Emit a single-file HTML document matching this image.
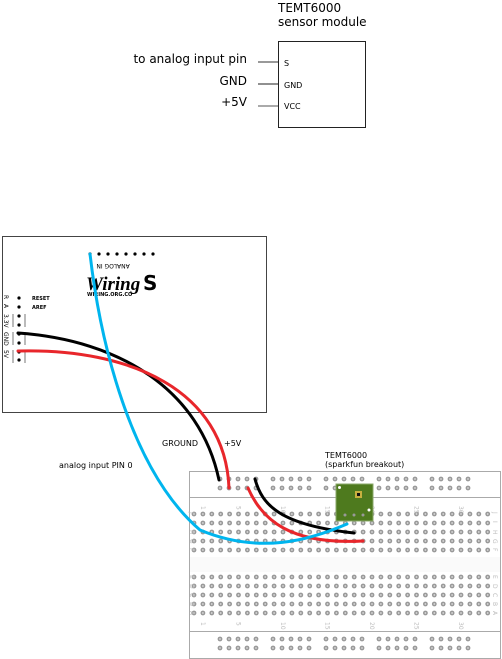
<!DOCTYPE html>
<html><head><meta charset="utf-8">
<style>
html,body{margin:0;padding:0;background:#fff;}
svg{display:block;font-family:"DejaVu Sans","Liberation Sans",sans-serif;}
</style></head>
<body>
<svg id="s" width="502" height="659" viewBox="0 0 502 659" xmlns="http://www.w3.org/2000/svg">
  <g>
    <text x="278" y="12" font-size="12">TEMT6000</text>
    <text x="278" y="26" font-size="12">sensor module</text>
    <rect x="278.5" y="41.5" width="87" height="86" fill="#fff" stroke="#222" stroke-width="1"/>
    <line x1="258" y1="62" x2="278" y2="62" stroke="#333"/>
    <line x1="258" y1="84" x2="278" y2="84" stroke="#222"/>
    <line x1="258" y1="106" x2="278" y2="106" stroke="#555"/>
    <text x="284" y="66" font-size="8">S</text>
    <text x="284" y="88" font-size="8">GND</text>
    <text x="284" y="109" font-size="8">VCC</text>
    <text x="247" y="63" font-size="12" text-anchor="end">to analog input pin</text>
    <text x="247" y="85" font-size="12" text-anchor="end">GND</text>
    <text x="247" y="106" font-size="12" text-anchor="end">+5V</text>
  </g>

  <g>
    <rect x="2.5" y="236.5" width="264" height="176" fill="#fff" stroke="#444"/>
    <g id="topPins"></g>
    <text x="127" y="268" font-size="6" text-anchor="middle" transform="rotate(180 120 266)">ANALOG IN</text>
    <text x="86" y="290" font-size="19" font-style="italic" font-weight="bold" font-family="Liberation Serif, serif">Wiring</text>
    <text x="143" y="290" font-size="20" font-weight="bold">S</text>
    <text x="87" y="296" font-size="5" font-weight="bold">WIRING.ORG.CO</text>
    <text x="32" y="300" font-size="5" font-weight="bold">RESET</text>
    <text x="32" y="309" font-size="5" font-weight="bold">AREF</text>
    <g id="sidePins"></g>
    <g font-size="6">
      <text transform="translate(4,295) rotate(90)">R</text>
      <text transform="translate(4,304) rotate(90)">A</text>
      <text transform="translate(4,314) rotate(90)">3.3V</text>
      <text transform="translate(4,332) rotate(90)">GND</text>
      <text transform="translate(4,350) rotate(90)">5V</text>
    </g>
    <g stroke="#555" stroke-width="0.8">
      <line x1="13" y1="314" x2="13" y2="327"/><line x1="25" y1="314" x2="25" y2="327"/>
      <line x1="13" y1="332" x2="13" y2="345"/><line x1="25" y1="332" x2="25" y2="345"/>
      <line x1="13" y1="350" x2="13" y2="363"/><line x1="25" y1="350" x2="25" y2="363"/>
    </g>
  </g>

  <g>
    <rect x="189.5" y="471.5" width="311" height="187" fill="#fff" stroke="#aaa"/>
    <line x1="189" y1="497.5" x2="501" y2="497.5" stroke="#aaa"/>
    <line x1="189" y1="631.5" x2="501" y2="631.5" stroke="#aaa"/>
    <rect x="190" y="557" width="310" height="15" fill="#fafafa"/>
    <g id="holes"></g>
    <g id="labels" font-size="6" fill="#bbb"></g>
    <g>
      <rect x="336" y="484" width="37" height="37" fill="#4e7a1e" stroke="#8aa86a"/>
      <circle cx="339.5" cy="487.5" r="1.5" fill="#fff"/>
      <circle cx="369" cy="510" r="1.5" fill="#fff"/>
      <rect x="355" y="491" width="7" height="7" fill="#c8b040"/>
      <rect x="357" y="493" width="3" height="3" fill="#111"/>
      <circle cx="345" cy="515" r="1.5" fill="#999"/><circle cx="354" cy="515" r="1.5" fill="#999"/><circle cx="363" cy="515" r="1.5" fill="#999"/>
    </g>
  </g>

  <text x="325" y="458" font-size="8">TEMT6000</text>
  <text x="325" y="467" font-size="8">(sparkfun breakout)</text>
  <text x="162" y="446" font-size="8">GROUND</text>
  <text x="224" y="446" font-size="8">+5V</text>
  <text x="59" y="468" font-size="8">analog input PIN 0</text>

  <g fill="none" stroke-width="3" stroke-linecap="round">
    <path d="M255,479 C262,505 280,525 354,533" stroke="#000"/>
    <path d="M248,488 C262,520 290,545 363,541" stroke="#e8262b"/>
    <path d="M18,333 C120,340 200,390 219,480" stroke="#000"/>
    <path d="M18,351 C130,348 225,390 229,488" stroke="#e8262b"/>
    <path d="M90,254 C100,340 130,470 200,530 C260,555 310,540 347,524" stroke="#00b5ee"/>
  </g>
</svg>
<script>
var NS='http://www.w3.org/2000/svg';
function c(p,x,y,r,f){var e=document.createElementNS(NS,'circle');e.setAttribute('cx',x);e.setAttribute('cy',y);e.setAttribute('r',r);e.setAttribute('fill',f);p.appendChild(e);return e;}
var tp=document.getElementById('topPins');
for(var i=0;i<8;i++)c(tp,90+i*9,254,1.6,'#000');
var sp=document.getElementById('sidePins');
[298,307,316,325,334,343,352,360].forEach(function(y){c(sp,19,y,1.6,'#000');});
var h=document.getElementById('holes');
function hole(x,y){c(h,x,y,2.4,'#999');c(h,x,y,0.9,'#ddd');}
[514,523,532,541,550,577,586,595,604,613].forEach(function(y){for(var i=0;i<34;i++)hole(194+i*8.9,y);});
[479,488,639,648].forEach(function(y){for(var g=0;g<5;g++)for(var k=0;k<5;k++)hole(220+g*53+k*9,y);});
var lb=document.getElementById('labels');
['1','5','10','15','20','25','30'].forEach(function(t,i){var n=i==0?1:i*5;[506,622].forEach(function(y){var e=document.createElementNS(NS,'text');e.setAttribute('transform','translate('+(203+(n-1)*8.9-2)+','+y+') rotate(90)');e.textContent=t;lb.appendChild(e);});});
['J','I','H','G','F','E','D','C','B','A'].forEach(function(t,i){var y=[514,523,532,541,550,577,586,595,604,613][i];[192,495].forEach(function(x){var e=document.createElementNS(NS,'text');e.setAttribute('transform','translate('+(x-2)+','+(y-2)+') rotate(90)');e.textContent=t;lb.appendChild(e);});});
</script>
</body></html>
